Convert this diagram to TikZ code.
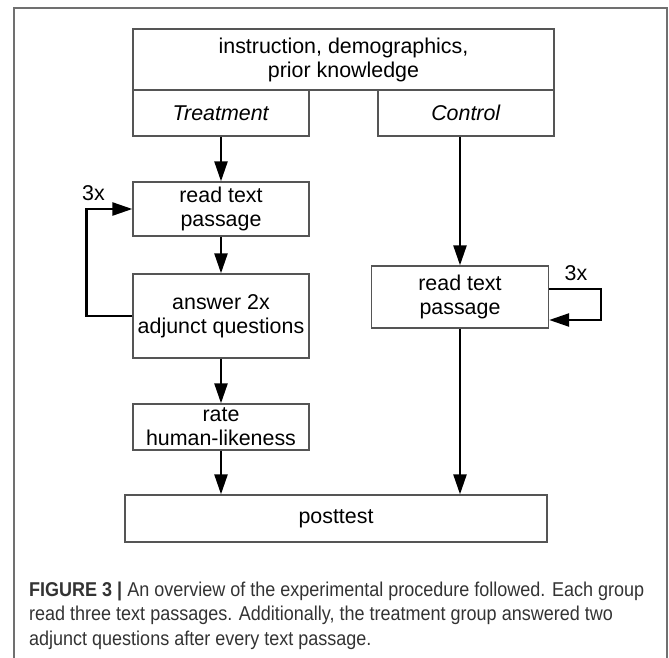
\documentclass[tikz,border=0pt]{standalone}
\usepackage{graphicx}
\usepackage{fontspec}
\setmainfont{Liberation Sans}
\usetikzlibrary{arrows.meta,calc}
\definecolor{boxline}{HTML}{555555}
\definecolor{captxt}{HTML}{333333}
\definecolor{framecol}{HTML}{707070}
\begin{document}
\begin{tikzpicture}[x=1pt,y=-1pt,
  box/.style={draw=boxline,line width=1.3pt,minimum width=176pt,inner sep=0pt,align=center,text=black,font=\fontsize{21.4}{24}\selectfont},
  arr/.style={line width=2.4pt,-{Triangle[length=20pt,width=13pt]}},
  lbl/.style={font=\fontsize{21.4}{24}\selectfont,inner sep=0pt},
  captionline/.style={anchor=base west,inner sep=0pt,text=captxt,font=\fontsize{20}{24}\selectfont}]
\useasboundingbox (0,0) rectangle (669,658);
\draw[framecol,line width=1.5pt] (14,658) -- (14,8) -- (667,8) -- (667,658);

\node[box,minimum width=421pt,minimum height=61pt] (top) at (343.5,59.5) {instruction, demographics,\\prior knowledge};
\node[box,minimum height=46pt] (treat) at (221,113) {\textit{Treatment}};
\node[box,minimum height=46pt] (ctrl) at (466,113) {\textit{Control}};
\node[box,minimum height=54pt] (lr) at (221,209) {read text\\passage};
\node[box,minimum height=84pt] (ans) at (221,316) {answer 2x\\adjunct questions};
\node[box,minimum height=46pt] (rate) at (221,427) {rate\\human-likeness};
\node[box,minimum width=177pt,minimum height=62pt] (rr) at (460,297) {read text\\passage};
\node[box,minimum width=422pt,minimum height=47pt] (post) at (336,518.5) {posttest};

\draw[arr] (treat.south) -- (lr.north);
\draw[arr] (lr.south) -- (ans.north);
\draw[arr] (ans.south) -- (rate.north);
\draw[arr] (rate.south) -- (rate.south |- post.north);
\draw[arr] (rr.north |- ctrl.south) -- (rr.north);
\draw[arr] (rr.south) -- (rr.south |- post.north);
\draw[arr] (ans.west) -- ++(-46,0) |- (lr.west);
\draw[arr] ([yshift=8pt]rr.east) -- ++(52,0) |- ([yshift=-23pt]rr.east);

\node[lbl] (l3x) at (93.5,193) {3x};
\node[lbl] (r3x) at (576,273) {3x};

\node[captionline] (c1) at (29,596) {\scalebox{0.9}[1]{\textbf{FIGURE 3 |} An overview of the experimental procedure followed. Each group}};
\node[captionline] (c2) at (29,620) {\scalebox{0.9}[1]{read three text passages. Additionally, the treatment group answered two}};
\node[captionline] (c3) at (29,645) {\scalebox{0.9}[1]{adjunct questions after every text passage.}};
\end{tikzpicture}
\end{document}
